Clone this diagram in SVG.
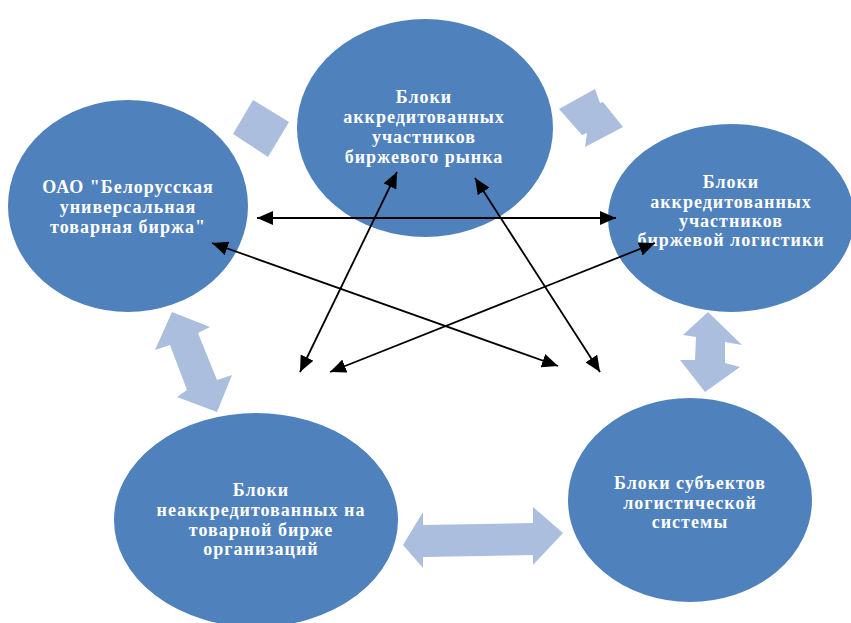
<svg xmlns="http://www.w3.org/2000/svg" width="851" height="623" viewBox="0 0 851 623">
<style>
.node{fill:#4F81BD;stroke:#ffffff;stroke-width:2}
.lbl{font-family:"Liberation Serif","Times New Roman",serif;font-weight:bold;font-size:18px;letter-spacing:1px;fill:#ffffff;text-anchor:middle}
.blk{fill:#ABBEDD}
.con{stroke:#000;stroke-width:1.8;fill:none;marker-start:url(#ah);marker-end:url(#ah)}
</style>
<defs>
<marker id="ah" markerUnits="userSpaceOnUse" markerWidth="18" markerHeight="14" refX="16" refY="7" orient="auto-start-reverse">
<path d="M0,0 L16,7 L0,14 Z" fill="#000"/>
</marker>
</defs>
<rect width="851" height="623" fill="#ffffff"/>
<g id="block-arrows">
<polygon class="blk" points="253,100 289,122 268,157 233,134"/>
<polygon class="blk" points="559,109 595,89 600,103 603,102 623,127 585,147 587,133 582,135"/>
<polygon class="blk" points="172,312 210,327 198,333 217,380 232,375 217,412 177,397 187,390 170,345 155,350"/>
<polygon class="blk" points="708,312 742,345 725,342 725,363 740,367 705,392 680,360 695,360 696,337 683,335"/>
<polygon class="blk" points="403,545 423,512 423,525 533,523 533,507 563,533 533,565 533,555 423,557 423,568"/>
</g>
<g id="node-top">
<ellipse class="node" cx="425" cy="128" rx="129" ry="110"/>
<text class="lbl" x="424" y="103">Блоки</text>
<text class="lbl" x="424" y="123">аккредитованных</text>
<text class="lbl" x="424" y="143">участников</text>
<text class="lbl" x="424" y="163">биржевого рынка</text>
</g>
<g id="node-left">
<ellipse class="node" cx="128" cy="206" rx="121" ry="107"/>
<text class="lbl" x="128" y="193">ОАО "Белорусская</text>
<text class="lbl" x="128" y="213">универсальная</text>
<text class="lbl" x="128" y="233">товарная биржа"</text>
</g>
<g id="node-right">
<ellipse class="node" cx="731" cy="218" rx="124" ry="95"/>
<text class="lbl" x="731" y="188">Блоки</text>
<text class="lbl" x="731" y="208">аккредитованных</text>
<text class="lbl" x="731" y="227">участников</text>
<text class="lbl" x="731" y="246">биржевой логистики</text>
</g>
<g id="node-bottom-left">
<ellipse class="node" cx="256" cy="520" rx="143" ry="108"/>
<text class="lbl" x="261" y="496">Блоки</text>
<text class="lbl" x="261" y="516">неаккредитованных на</text>
<text class="lbl" x="261" y="536">товарной бирже</text>
<text class="lbl" x="261" y="555">организаций</text>
</g>
<g id="node-bottom-right">
<ellipse class="node" cx="690" cy="500" rx="123" ry="103"/>
<text class="lbl" x="690" y="489">Блоки субъектов</text>
<text class="lbl" x="690" y="509">логистической</text>
<text class="lbl" x="690" y="528">системы</text>
</g>
<g id="connectors">
<line class="con" x1="257" y1="218" x2="616" y2="218"/>
<line class="con" x1="397" y1="172" x2="300" y2="372"/>
<line class="con" x1="475" y1="178" x2="600" y2="372"/>
<line class="con" x1="212" y1="243" x2="558" y2="366"/>
<line class="con" x1="655" y1="243" x2="330" y2="372"/>
</g>
</svg>
